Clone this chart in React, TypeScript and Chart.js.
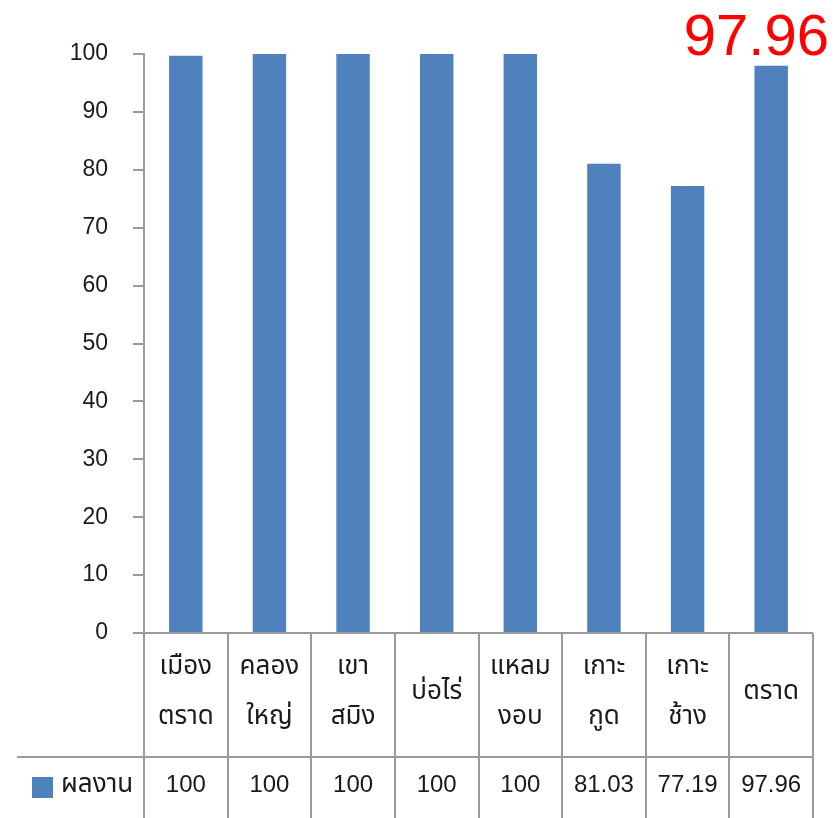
import React, { useEffect, useRef } from "react";
import { Chart, registerables } from "chart.js";

Chart.register(...registerables);

const categories: string[][] = [
  ["เมือง", "ตราด"],
  ["คลอง", "ใหญ่"],
  ["เขา", "สมิง"],
  ["บ่อไร่"],
  ["แหลม", "งอบ"],
  ["เกาะ", "กูด"],
  ["เกาะ", "ช้าง"],
  ["ตราด"],
];
const seriesName = "ผลงาน";
const values: number[] = [99.7, 100, 100, 100, 100, 81.03, 77.19, 97.96];
const tableLabels: string[] = ["100", "100", "100", "100", "100", "81.03", "77.19", "97.96"];
const highlightLabel = "97.96";

const BAR = "#4F81BD";
const LINE = "#9a9a9a";
const FONT = '"Liberation Sans", "Noto Sans Thai", "Noto Sans", sans-serif';

const tablePlugin = {
  id: "dataTable",
  afterDraw(chart: any) {
    const ctx = chart.ctx as CanvasRenderingContext2D;
    const xs = chart.scales.x;
    const ys = chart.scales.y;
    const area = chart.chartArea;
    const H = chart.height;
    const y0 = ys.getPixelForValue(0);
    const w = xs.getPixelForValue(1) - xs.getPixelForValue(0);
    const rowSplit = y0 + 124;
    ctx.save();
    ctx.strokeStyle = LINE;
    ctx.lineWidth = 2;
    // baseline
    ctx.beginPath();
    ctx.moveTo(area.left, y0);
    ctx.lineTo(area.right, y0);
    ctx.stroke();
    // vertical lines
    for (let i = 0; i <= categories.length; i++) {
      const bx = Math.round(xs.getPixelForValue(i) - w / 2);
      ctx.beginPath();
      ctx.moveTo(bx, y0);
      ctx.lineTo(bx, H);
      ctx.stroke();
    }
    // horizontal split
    ctx.beginPath();
    ctx.moveTo(17, rowSplit);
    ctx.lineTo(area.right, rowSplit);
    ctx.stroke();

    ctx.fillStyle = "#1a1a1a";
    ctx.font = `26px ${FONT}`;
    ctx.textAlign = "center";
    ctx.textBaseline = "middle";
    const headMid = (y0 + rowSplit) / 2;
    categories.forEach((lines, i) => {
      const cx = xs.getPixelForValue(i);
      if (lines.length === 1) {
        ctx.fillText(lines[0], cx, headMid - 3);
      } else {
        ctx.fillText(lines[0], cx, headMid - 28);
        ctx.fillText(lines[1], cx, headMid + 22);
      }
    });
    const valMid = rowSplit + 28;
    ctx.font = `24px ${FONT}`;
    tableLabels.forEach((t, i) => {
      ctx.fillText(t, xs.getPixelForValue(i), valMid);
    });
    // legend key
    ctx.fillStyle = BAR;
    ctx.fillRect(32, rowSplit + 20, 21, 21);
    ctx.fillStyle = "#1a1a1a";
    ctx.textAlign = "left";
    ctx.font = `26px ${FONT}`;
    ctx.fillText(seriesName, 61, valMid);

    // highlight label
    ctx.fillStyle = "#FF0000";
    ctx.font = `58px ${FONT}`;
    ctx.textAlign = "right";
    ctx.textBaseline = "alphabetic";
    ctx.fillText(highlightLabel, 829, 55);
    ctx.restore();
  },
};

export default function App() {
  const ref = useRef<HTMLCanvasElement>(null);
  useEffect(() => {
    if (!ref.current) return;
    const chart = new Chart(ref.current, {
      type: "bar",
      data: {
        labels: categories.map((c) => c.join("")),
        datasets: [
          {
            label: seriesName,
            data: values,
            backgroundColor: BAR,
            borderWidth: 0,
            barPercentage: 0.4,
            categoryPercentage: 1,
          },
        ],
      },
      options: {
        responsive: false,
        animation: false,
        layout: { padding: { left: 0, right: 21, top: 54, bottom: 185 } },
        plugins: { legend: { display: false }, tooltip: { enabled: false } },
        scales: {
          x: { display: false },
          y: {
            min: 0,
            max: 100,
            afterFit: (s: any) => {
              s.width = 144;
            },
            ticks: {
              stepSize: 10,
              padding: 25,
              color: "#1a1a1a",
              font: { size: 23, family: FONT },
            },
            grid: {
              drawOnChartArea: false,
              drawTicks: true,
              tickLength: 11,
              color: LINE,
              lineWidth: 2,
            },
            border: { color: LINE, width: 2 },
          },
        },
      },
      plugins: [tablePlugin],
    });
    return () => chart.destroy();
  }, []);
  return (
    <div style={{ position: "absolute", left: 0, top: 0, width: 834, height: 818 }}>
      <canvas ref={ref} width={834} height={818} />
    </div>
  );
}
